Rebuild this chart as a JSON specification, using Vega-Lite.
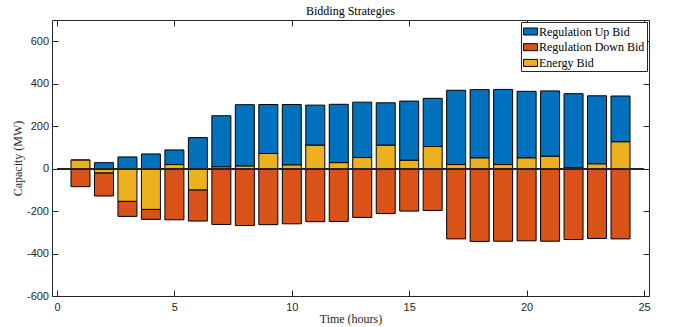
{
  "$schema": "https://vega.github.io/schema/vega-lite/v6.json",
  "width": 597,
  "height": 276,
  "autosize": {"type": "none"},
  "padding": {"left": 52, "top": 20, "right": 31, "bottom": 31},
  "background": "white",
  "title": {"text": "Bidding Strategies", "font": "Liberation Serif", "fontSize": 12, "fontWeight": "normal", "color": "#000000", "frame": "group", "anchor": "middle", "offset": 2},
  "config": {
    "view": {"stroke": null},
    "axis": {
      "grid": false,
      "domainColor": "#262626",
      "domainWidth": 1,
      "tickColor": "#262626",
      "tickWidth": 1,
      "tickSize": -6,
      "labelFont": "Liberation Sans",
      "labelFontSize": 11,
      "labelColor": "#262626",
      "titleFont": "Liberation Serif",
      "titleFontSize": 12,
      "titleFontWeight": "normal",
      "titleColor": "#262626"
    }
  },
  "datasets": {
    "bids": [
      {"hour": 1, "series": "Regulation Up Bid", "value": 0},
      {"hour": 1, "series": "Regulation Down Bid", "value": -85},
      {"hour": 1, "series": "Energy Bid", "value": 40},
      {"hour": 2, "series": "Regulation Up Bid", "value": 28},
      {"hour": 2, "series": "Regulation Down Bid", "value": -109},
      {"hour": 2, "series": "Energy Bid", "value": -20},
      {"hour": 3, "series": "Regulation Up Bid", "value": 55},
      {"hour": 3, "series": "Regulation Down Bid", "value": -71},
      {"hour": 3, "series": "Energy Bid", "value": -154},
      {"hour": 4, "series": "Regulation Up Bid", "value": 69},
      {"hour": 4, "series": "Regulation Down Bid", "value": -47},
      {"hour": 4, "series": "Energy Bid", "value": -192},
      {"hour": 5, "series": "Regulation Up Bid", "value": 69},
      {"hour": 5, "series": "Regulation Down Bid", "value": -241},
      {"hour": 5, "series": "Energy Bid", "value": 19},
      {"hour": 6, "series": "Regulation Up Bid", "value": 146},
      {"hour": 6, "series": "Regulation Down Bid", "value": -147},
      {"hour": 6, "series": "Energy Bid", "value": -100},
      {"hour": 7, "series": "Regulation Up Bid", "value": 241},
      {"hour": 7, "series": "Regulation Down Bid", "value": -263},
      {"hour": 7, "series": "Energy Bid", "value": 8},
      {"hour": 8, "series": "Regulation Up Bid", "value": 289},
      {"hour": 8, "series": "Regulation Down Bid", "value": -268},
      {"hour": 8, "series": "Energy Bid", "value": 12},
      {"hour": 9, "series": "Regulation Up Bid", "value": 231},
      {"hour": 9, "series": "Regulation Down Bid", "value": -264},
      {"hour": 9, "series": "Energy Bid", "value": 71},
      {"hour": 10, "series": "Regulation Up Bid", "value": 285},
      {"hour": 10, "series": "Regulation Down Bid", "value": -260},
      {"hour": 10, "series": "Energy Bid", "value": 17},
      {"hour": 11, "series": "Regulation Up Bid", "value": 189},
      {"hour": 11, "series": "Regulation Down Bid", "value": -250},
      {"hour": 11, "series": "Energy Bid", "value": 110},
      {"hour": 12, "series": "Regulation Up Bid", "value": 275},
      {"hour": 12, "series": "Regulation Down Bid", "value": -249},
      {"hour": 12, "series": "Energy Bid", "value": 28},
      {"hour": 13, "series": "Regulation Up Bid", "value": 261},
      {"hour": 13, "series": "Regulation Down Bid", "value": -230},
      {"hour": 13, "series": "Energy Bid", "value": 52},
      {"hour": 14, "series": "Regulation Up Bid", "value": 200},
      {"hour": 14, "series": "Regulation Down Bid", "value": -212},
      {"hour": 14, "series": "Energy Bid", "value": 110},
      {"hour": 15, "series": "Regulation Up Bid", "value": 279},
      {"hour": 15, "series": "Regulation Down Bid", "value": -200},
      {"hour": 15, "series": "Energy Bid", "value": 39},
      {"hour": 16, "series": "Regulation Up Bid", "value": 227},
      {"hour": 16, "series": "Regulation Down Bid", "value": -197},
      {"hour": 16, "series": "Energy Bid", "value": 104},
      {"hour": 17, "series": "Regulation Up Bid", "value": 350},
      {"hour": 17, "series": "Regulation Down Bid", "value": -331},
      {"hour": 17, "series": "Energy Bid", "value": 19},
      {"hour": 18, "series": "Regulation Up Bid", "value": 322},
      {"hour": 18, "series": "Regulation Down Bid", "value": -343},
      {"hour": 18, "series": "Energy Bid", "value": 50},
      {"hour": 19, "series": "Regulation Up Bid", "value": 354},
      {"hour": 19, "series": "Regulation Down Bid", "value": -342},
      {"hour": 19, "series": "Energy Bid", "value": 19},
      {"hour": 20, "series": "Regulation Up Bid", "value": 314},
      {"hour": 20, "series": "Regulation Down Bid", "value": -340},
      {"hour": 20, "series": "Energy Bid", "value": 50},
      {"hour": 21, "series": "Regulation Up Bid", "value": 308},
      {"hour": 21, "series": "Regulation Down Bid", "value": -342},
      {"hour": 21, "series": "Energy Bid", "value": 58},
      {"hour": 22, "series": "Regulation Up Bid", "value": 350},
      {"hour": 22, "series": "Regulation Down Bid", "value": -334},
      {"hour": 22, "series": "Energy Bid", "value": 3},
      {"hour": 23, "series": "Regulation Up Bid", "value": 321},
      {"hour": 23, "series": "Regulation Down Bid", "value": -329},
      {"hour": 23, "series": "Energy Bid", "value": 22},
      {"hour": 24, "series": "Regulation Up Bid", "value": 216},
      {"hour": 24, "series": "Regulation Down Bid", "value": -331},
      {"hour": 24, "series": "Energy Bid", "value": 126}
    ]
  },
  "resolve": {"scale": {"x": "shared", "y": "shared"}, "axis": {"x": "independent", "y": "independent"}},
  "layer": [
    {
      "data": {"name": "bids"},
      "mark": {"type": "bar", "size": 19, "stroke": "#000000", "strokeWidth": 1},
      "encoding": {
        "x": {
          "field": "hour", "type": "quantitative",
          "scale": {"domain": [0, 25], "nice": false, "zero": false},
          "axis": {"orient": "bottom", "values": [0, 5, 10, 15, 20, 25], "title": "Time (hours)", "labelPadding": 11, "titlePadding": 1}
        },
        "y": {
          "field": "value", "type": "quantitative", "stack": "zero",
          "scale": {"domain": [-600, 700], "nice": false},
          "axis": {"orient": "left", "values": [-600, -400, -200, 0, 200, 400, 600], "labelExpr": "replace(datum.label, '\u2212', '-')", "title": "Capacity (MW)", "labelPadding": 9.5, "titlePadding": 2}
        },
        "color": {
          "field": "series", "type": "nominal",
          "scale": {"domain": ["Regulation Up Bid", "Regulation Down Bid", "Energy Bid"], "range": ["#0072BD", "#D95319", "#EDB120"]},
          "legend": {
            "title": null,
            "orient": "top-right",
            "offset": 2,
            "padding": 2,
            "rowPadding": 1.7,
            "labelOffset": 1,
            "labelFont": "Liberation Serif",
            "labelFontSize": 12,
            "labelColor": "#000000",
            "symbolType": "M-1,-0.5L1,-0.5L1,0.5L-1,0.5Z",
            "symbolSize": 196,
            "symbolStrokeColor": "#000000",
            "symbolStrokeWidth": 1,
            "symbolOpacity": 1,
            "strokeColor": "#262626",
            "fillColor": "#ffffff"
          }
        },
        "order": {"field": "series", "sort": "ascending"}
      }
    },
    {
      "data": {"name": "bids"},
      "mark": {"type": "rule", "color": "#262626", "strokeWidth": 1},
      "encoding": {
        "x": {"datum": 0, "type": "quantitative", "axis": {"orient": "top", "labels": false, "title": null, "values": [0, 5, 10, 15, 20, 25]}},
        "x2": {"datum": 25},
        "y": {"datum": 0, "type": "quantitative", "axis": {"orient": "right", "labels": false, "title": null, "values": [-600, -400, -200, 0, 200, 400, 600]}}
      }
    }
  ]
}
